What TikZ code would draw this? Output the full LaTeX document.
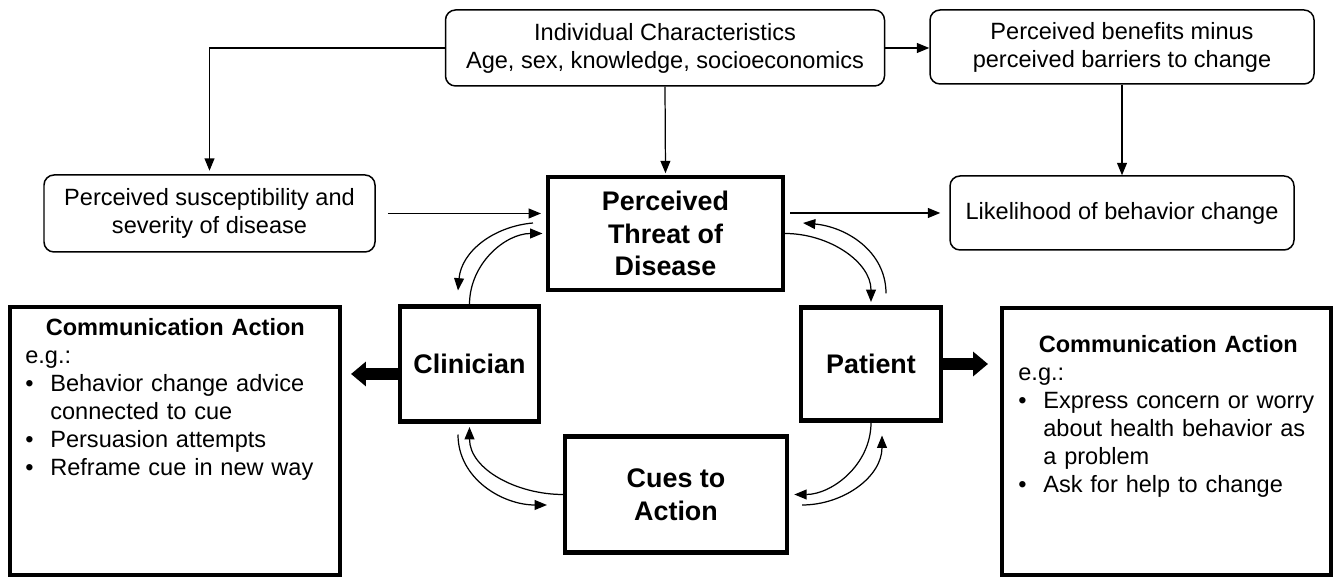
\documentclass[tikz,border=0pt]{standalone}
\usepackage{fontspec}
\setmainfont{Liberation Sans}
\usepackage{tikz}
\usetikzlibrary{arrows.meta, positioning}

\newcommand{\bulitem}[1]{\par\noindent\makebox[0.5cm][l]{\textbullet}#1}
\newcommand{\contline}[1]{\par\noindent\hspace*{0.5cm}#1}

\begin{document}
\begin{tikzpicture}[x=0.2mm, y=0.2mm,
    box/.style={draw, rounded corners=0.2cm, line width=0.85pt, align=center,
        font=\fontsize{13.4}{16}\selectfont},
    thickbox/.style={draw, line width=2.3pt, align=center,
        font=\fontsize{15.3}{18.7}\selectfont\bfseries},
    flow/.style={-{Triangle[length=7pt, width=5.6pt]}, line width=0.7pt},
    bigarrow/.style={-{Triangle[length=8.5pt, width=13.6pt]}, line width=6.8pt},
    commtext/.style={text width=6cm, inner sep=0pt, align=left,
        font=\fontsize{13.4}{15.9}\selectfont}]
    \useasboundingbox (0,0) rectangle (1340,580);

    % Top row
    \node[box, minimum width=8.78cm, minimum height=1.52cm] (indiv) at (665,532)
        {Individual Characteristics\\Age, sex, knowledge, socioeconomics};
    \node[box, minimum width=7.68cm, minimum height=1.48cm] (benefit) at (1122,533)
        {Perceived benefits minus\\perceived barriers to change};

    % Second row
    \node[box, minimum width=6.62cm, minimum height=1.54cm] (suscept) at (209.5,366.5)
        {Perceived susceptibility and\\severity of disease};
    \node[box, minimum width=6.88cm, minimum height=1.48cm] (likely) at (1122,367)
        {Likelihood of behavior change};
    \node[thickbox, minimum width=4.7cm, minimum height=2.26cm] (threat) at (665.5,346.5)
        {Perceived\\Threat of\\Disease};

    % Cycle
    \node[thickbox, minimum width=2.78cm, minimum height=2.3cm] (clin) at (469.5,216) {Clinician};
    \node[thickbox, minimum width=2.8cm, minimum height=2.26cm] (pat) at (871,216) {Patient};
    \node[thickbox, minimum width=4.44cm, minimum height=2.32cm] (cues) at (676,85.5) {Cues to\\Action};

    % Communication boxes
    \node[draw, line width=2.3pt, minimum width=6.6cm, minimum height=5.36cm] (commL) at (175,139) {};
    \node[draw, line width=2.3pt, minimum width=6.58cm, minimum height=5.34cm] (commR) at (1166.5,138.5) {};
    \node[commtext, anchor=north west] (actL) at (25,262)
        {{\centering\bfseries Communication Action\par}
        e.g.:
        \bulitem{Behavior change advice}
        \contline{connected to cue}
        \bulitem{Persuasion attempts}
        \bulitem{Reframe cue in new way}};
    \node[commtext, anchor=north west] (actR) at (1018,245)
        {{\centering\bfseries Communication Action\par}
        e.g.:
        \bulitem{Express concern or worry}
        \contline{about health behavior as}
        \contline{a problem}
        \bulitem{Ask for help to change}};

    % Straight connectors
    \draw[flow, shorten >=2pt] (indiv.west) -| (suscept.north);
    \draw[flow, shorten >=1pt] (indiv.south) -- (threat.north);
    \draw[flow] (indiv.east) -- (indiv.east -| benefit.west);
    \draw[flow] (benefit.south) -- (likely.north);
    \draw[flow, shorten <=0.24cm, shorten >=0.1cm] (suscept.east) -- (suscept.east -| threat.west);
    \draw[flow, shorten <=0.1cm, shorten >=0.18cm] (likely.west -| threat.east) -- (likely.west);

    % Curved connectors
    \coordinate (thrL) at ([shift={(-13,10.5)}]threat.west);
    \coordinate (clinT) at ([shift={(-11.5,14)}]clin.north);
    \coordinate (patT) at ([shift={(15,12)}]pat.north);
    \coordinate (thrR) at ([shift={(18,10.5)}]threat.east);
    \coordinate (clinB) at ([shift={(-11.5,-11)}]clin.south);
    \coordinate (cuesL) at ([shift={(-16,-10.5)}]cues.west);
    \coordinate (cuesR) at ([shift={(13,-10.5)}]cues.east);
    \coordinate (patB) at ([shift={(11,-13)}]pat.south);

    \draw[flow, shorten >=2pt] (clin.north) to[out=90, in=180] (threat.west);
    \draw[flow] (thrL) to[out=185, in=85] (clinT);
    \draw[flow, shorten >=2pt] (threat.east) to[out=0, in=90] (pat.north);
    \draw[flow] (patT) to[out=90, in=-5] (thrR);
    \draw[flow] (clinB) to[out=-90, in=180] (cuesL);
    \draw[flow, shorten >=2pt] (cues.west) to[out=180, in=-90] (clin.south);
    \draw[flow, shorten >=3pt] (pat.south) to[out=-90, in=0] (cues.east);
    \draw[flow] (cuesR) to[out=0, in=-90] (patB);

    % Thick arrows to the actions
    \draw[bigarrow, shorten >=0.18cm] ([yshift=-0.2cm]clin.west) -- ([yshift=-0.2cm]clin.west -| commL.east);
    \draw[bigarrow, shorten >=0.24cm] (pat.east) -- (pat.east -| commR.west);
\end{tikzpicture}
\end{document}
